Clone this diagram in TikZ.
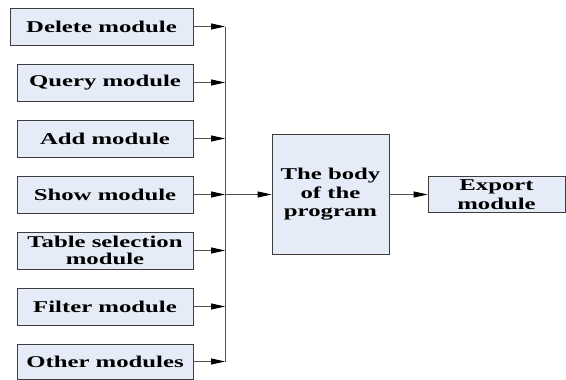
\documentclass[tikz,border=0pt]{standalone}
\usepackage{fontspec}
\newfontfamily\lblfont{Liberation Serif}[FakeStretch=1.5]
\usetikzlibrary{arrows.meta}
\definecolor{boxfill}{RGB}{230,236,247}
\definecolor{boxline}{RGB}{60,60,60}
\definecolor{conline}{RGB}{80,80,80}
\begin{document}
\begin{tikzpicture}[x=1pt,y=-1pt,
  modbox/.style={draw=boxline,fill=boxfill,line width=0.8pt,inner sep=0pt,
    align=center,font=\lblfont\bfseries\fontsize{16.5}{18.5}\selectfont},
  conn/.style={draw=conline,line width=0.8pt},
  arr/.style={conn,-{Triangle[length=14pt,width=6pt,color=black]}}]
\useasboundingbox (0,0) rectangle (566,380);
\node[modbox,minimum width=183pt,minimum height=37pt] (del) at (101.5,26.5) {Delete module};
\node[modbox,minimum width=176pt,minimum height=37pt] (qry) at (105,82.5) {Query module};
\node[modbox,minimum width=176pt,minimum height=37pt] (add) at (105,138.5) {Add module};
\node[modbox,minimum width=176pt,minimum height=37pt] (shw) at (105,194.5) {Show module};
\node[modbox,minimum width=176pt,minimum height=37pt] (tbl) at (105,250.5) {Table selection\\[-1pt]module};
\node[modbox,minimum width=176pt,minimum height=37pt] (flt) at (105,306.5) {Filter module};
\node[modbox,minimum width=176pt,minimum height=35pt] (oth) at (105,361.5) {Other modules};
\node[modbox,minimum width=117pt,minimum height=120pt] (body) at (330.5,194.5) {The body\\of the\\program};
\node[modbox,minimum width=137pt,minimum height=36pt] (exp) at (496.5,194.5) {Export\\module};
\coordinate (bt) at (225,26.5);
\coordinate (bb) at (225,361.5);
\draw[conn] (bt) -- (bb);
\foreach \m in {del,qry,add,shw,tbl,flt,oth}
  \draw[arr] (\m.east) -- (\m.east -| bt);
\draw[arr] (bt |- body.west) -- (body.west);
\draw[arr] (body.east) -- (exp.west);
\end{tikzpicture}
\end{document}
